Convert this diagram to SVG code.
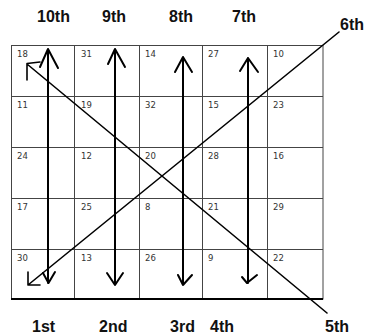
<svg xmlns="http://www.w3.org/2000/svg" width="367" height="335" viewBox="0 0 367 335">
<style>
.bg{fill:#fff}
.grid{stroke:#444;stroke-width:1;fill:none}
.base{stroke:#000;stroke-width:2}
.num{font-family:"DejaVu Sans",sans-serif;font-size:8.5px;fill:#333}
.lbl{font-family:"Liberation Sans",Arial,sans-serif;font-size:16px;font-weight:bold;fill:#111}
.ln{stroke:#000;stroke-width:2;fill:none;stroke-linecap:round;stroke-linejoin:round}
.dg{stroke:#000;stroke-width:1.6;fill:none;stroke-linecap:round;stroke-linejoin:round}
</style>
<rect class="bg" x="0" y="0" width="367" height="335"/>
<g id="grid">
<rect class="grid" x="11.5" y="45.5" width="311.5" height="253.5"/>
<path class="grid" d="M74.5 45.5V299M139.5 45.5V299M202.5 45.5V299M267.5 45.5V299M11.5 96.5H323M11.5 147.5H323M11.5 198.5H323M11.5 249.5H323"/>
<line class="base" x1="11" y1="299" x2="323" y2="299"/>
</g>
<g id="numbers">
<text class="num" x="17" y="57">18</text><text class="num" x="81" y="57">31</text><text class="num" x="145" y="57">14</text><text class="num" x="208" y="57">27</text><text class="num" x="273" y="57">10</text>
<text class="num" x="17" y="108">11</text><text class="num" x="81" y="108">19</text><text class="num" x="145" y="108">32</text><text class="num" x="208" y="108">15</text><text class="num" x="273" y="108">23</text>
<text class="num" x="17" y="159">24</text><text class="num" x="81" y="159">12</text><text class="num" x="145" y="159">20</text><text class="num" x="208" y="159">28</text><text class="num" x="273" y="159">16</text>
<text class="num" x="17" y="210">17</text><text class="num" x="81" y="210">25</text><text class="num" x="145" y="210">8</text><text class="num" x="208" y="210">21</text><text class="num" x="273" y="210">29</text>
<text class="num" x="17" y="261">30</text><text class="num" x="81" y="261">13</text><text class="num" x="145" y="261">26</text><text class="num" x="208" y="261">9</text><text class="num" x="273" y="261">22</text>
</g>
<g id="connectors">
<path class="ln" d="M48 49V283M40 67L48 49L58 68M43 273L48.5 283L55 272"/>
<path class="ln" d="M115 49V285M108 64L115 49L125 67M107 273L115 285L123 273"/>
<path class="ln" d="M183 57V285M175 72L183 57L192 72M178 275L183 285L192 275"/>
<path class="ln" d="M248 58V283M240 71L248 58L258 72M242 277L247 283L257 275"/>
<path class="dg" d="M27 64L327 313M40 62L27 63.5L27 80"/>
<path class="dg" d="M28 285L339 32M28 272L28 285L40 285"/>
</g>
<g id="labels">
<text class="lbl" x="37" y="22">10th</text>
<text class="lbl" x="102" y="22">9th</text>
<text class="lbl" x="169" y="22">8th</text>
<text class="lbl" x="232" y="22">7th</text>
<text class="lbl" x="340" y="30">6th</text>
<text class="lbl" x="32" y="332">1st</text>
<text class="lbl" x="99" y="332">2nd</text>
<text class="lbl" x="170" y="332">3rd</text>
<text class="lbl" x="210" y="332">4th</text>
<text class="lbl" x="325" y="332">5th</text>
</g>
</svg>
